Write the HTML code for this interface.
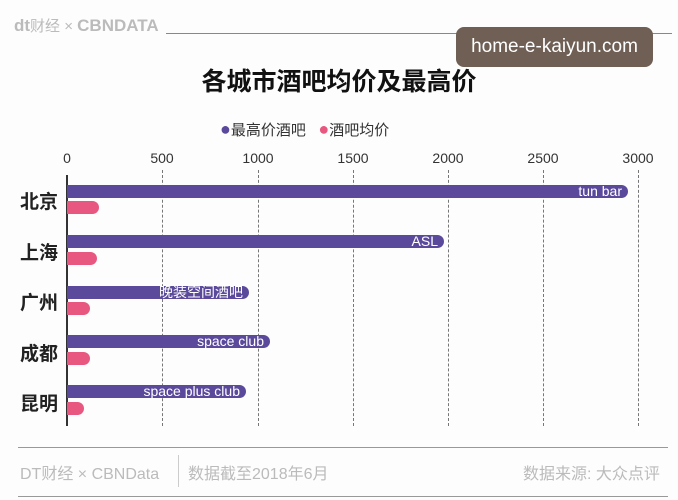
<!DOCTYPE html>
<html><head><meta charset="utf-8"><style>
body{margin:0;width:678px;height:500px;background:#fdfdfd;position:relative;overflow:hidden;font-family:"Liberation Sans","Noto Sans CJK SC",sans-serif}
.a{position:absolute}
.g{position:absolute;top:170px;height:256px;border-left:1.5px dashed #777}
.p{position:absolute;left:67px;height:13px;background:#5b4a9b;border-radius:0 7px 7px 0;color:#fff;font-size:14px;line-height:13px;text-align:right;box-sizing:border-box;padding-right:6px;white-space:nowrap}
.k{position:absolute;left:67px;height:13px;background:#e8577f;border-radius:0 7px 7px 0}
.c{position:absolute;left:20px;font-size:19px;font-weight:bold;color:#222}
.t{position:absolute;top:150px;font-size:14px;color:#333;transform:translateX(-50%)}
</style></head><body>
<div class="a" style="left:14px;top:15px;font-size:17px;color:#bbb;font-weight:bold">dt<span style="font-weight:normal;font-size:15px">财经 × </span>CBNDATA</div>
<div class="a" style="left:166px;top:33px;width:506px;height:1px;background:#888"></div>
<div class="a" style="left:456px;top:27px;width:197px;height:40px;background:#6f5f55;border-radius:8px;color:#fff;font-size:19px;line-height:40px;text-align:center">home-e-kaiyun.com</div>
<div class="a" style="left:0;width:678px;top:62px;text-align:center;font-size:25px;font-weight:bold;color:#111">各城市酒吧均价及最高价</div>
<div class="a" style="left:220px;top:119px;font-size:15px;color:#333"><span style="color:#5b4a9b;font-size:18px">●</span>最高价酒吧 &nbsp;&nbsp;<span style="color:#e8577f;font-size:18px">●</span>酒吧均价</div>
<div class="t" style="left:67px">0</div><div class="t" style="left:162px">500</div><div class="t" style="left:258px">1000</div><div class="t" style="left:353px">1500</div><div class="t" style="left:448px">2000</div><div class="t" style="left:543px">2500</div><div class="t" style="left:638px">3000</div>
<div class="g" style="left:162px"></div><div class="g" style="left:258px"></div><div class="g" style="left:353px"></div><div class="g" style="left:448px"></div><div class="g" style="left:543px"></div><div class="g" style="left:638px"></div>
<div class="a" style="left:66px;top:175px;width:1.5px;height:251px;background:#333"></div>
<div class="p" style="top:185px;width:561px">tun bar</div><div class="k" style="top:201px;width:32px"></div>
<div class="p" style="top:235px;width:377px">ASL</div><div class="k" style="top:252px;width:30px"></div>
<div class="p" style="top:286px;width:182px">晚装空间酒吧</div><div class="k" style="top:302px;width:23px"></div>
<div class="p" style="top:335px;width:203px">space club</div><div class="k" style="top:352px;width:23px"></div>
<div class="p" style="top:385px;width:179px">space plus club</div><div class="k" style="top:402px;width:17px"></div>
<div class="c" style="top:187px">北京</div><div class="c" style="top:238px">上海</div><div class="c" style="top:288px">广州</div><div class="c" style="top:339px">成都</div><div class="c" style="top:389px">昆明</div>
<div class="a" style="left:18px;top:447px;width:650px;height:1px;background:#999"></div>
<div class="a" style="left:18px;top:496px;width:650px;height:1px;background:#999"></div>
<div class="a" style="left:178px;top:455px;width:1px;height:32px;background:#ccc"></div>
<div class="a" style="left:20px;top:460px;font-size:16px;color:#bbb">DT财经 × CBNData</div>
<div class="a" style="left:188px;top:460px;font-size:16px;color:#bbb">数据截至2018年6月</div>
<div class="a" style="left:523px;top:460px;font-size:16px;color:#bbb">数据来源: 大众点评</div>
</body></html>
